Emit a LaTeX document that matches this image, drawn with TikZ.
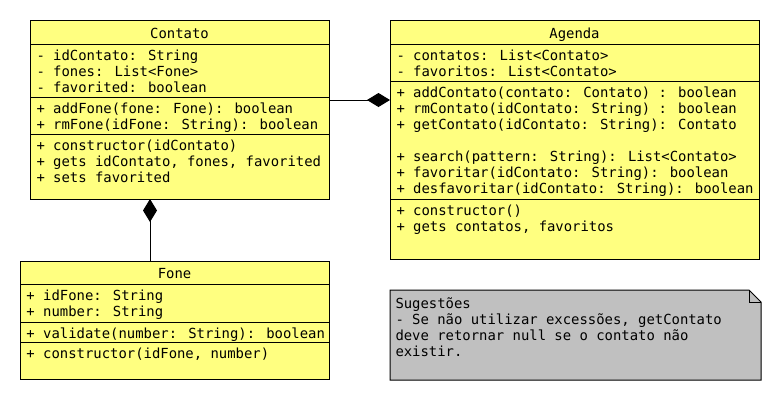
\documentclass[tikz,border=0pt]{standalone}
\usepackage{fontspec}
\newfontfamily\umlfont{DejaVu Sans Mono}
\usetikzlibrary{arrows.meta,positioning}
\definecolor{umlyellow}{HTML}{FFFF80}
\definecolor{notegrey}{HTML}{C0C0C0}

\begin{document}
\begin{tikzpicture}[
    x=1pt, y=-1pt,
    line width=1pt,
    classbox/.style={draw, fill=umlyellow, anchor=north west, inner sep=0pt, outer sep=0pt},
    classname/.style={anchor=base, inner sep=0pt, font=\umlfont\fontsize{13.9}{16}\selectfont},
    member/.style={anchor=base west, align=left, inner sep=0pt, font=\umlfont\fontsize{13.9}{16}\selectfont},
    comp/.style={-{Diamond[length=23pt,width=14pt]}}
]
\useasboundingbox (0,0) rectangle (780,400);

\node (contato) [classbox, minimum width=299pt, minimum height=179pt] at (30,20) {};
\node (agenda) [classbox, minimum width=369pt, minimum height=239pt] at (390,20) {};
\node (fone) [classbox, minimum width=309pt, minimum height=118pt] at (20,261) {};

\draw ([yshift=-24pt]contato.north west) -- ([yshift=-24pt]contato.north east);
\draw ([yshift=-77pt]contato.north west) -- ([yshift=-77pt]contato.north east);
\draw ([yshift=-114pt]contato.north west) -- ([yshift=-114pt]contato.north east);
\draw ([yshift=-24pt]agenda.north west) -- ([yshift=-24pt]agenda.north east);
\draw ([yshift=-61pt]agenda.north west) -- ([yshift=-61pt]agenda.north east);
\draw ([yshift=-179pt]agenda.north west) -- ([yshift=-179pt]agenda.north east);
\draw ([yshift=-23.5pt]fone.north west) -- ([yshift=-23.5pt]fone.north east);
\draw ([yshift=-61pt]fone.north west) -- ([yshift=-61pt]fone.north east);
\draw ([yshift=-81pt]fone.north west) -- ([yshift=-81pt]fone.north east);

\node (contatoname) [classname] at ([yshift=-18pt]contato.north) {Contato};
\node (contatoattr) [member] at ([xshift=6pt,yshift=-72pt]contato.north west) {- idContato: String\\- fones: List<Fone>\\- favorited: boolean};
\node (contatoops) [member] at ([xshift=6pt,yshift=-109pt]contato.north west) {+ addFone(fone: Fone): boolean\\+ rmFone(idFone: String): boolean};
\node (contatoacc) [member] at ([xshift=6pt,yshift=-162pt]contato.north west) {+ constructor(idContato)\\+ gets idContato, fones, favorited\\+ sets favorited};

\node (agendaname) [classname] at ([yshift=-18pt]agenda.north) {Agenda};
\node (agendaattr) [member] at ([xshift=6pt,yshift=-56pt]agenda.north west) {- contatos: List<Contato>\\- favoritos: List<Contato>};
\node (agendaops) [member] at ([xshift=6pt,yshift=-173pt]agenda.north west) {+ addContato(contato: Contato) : boolean\\+ rmContato(idContato: String) : boolean\\+ getContato(idContato: String): Contato\\[16pt]+ search(pattern: String): List<Contato>\\+ favoritar(idContato: String): boolean\\+ desfavoritar(idContato: String): boolean};
\node (agendaacc) [member] at ([xshift=6pt,yshift=-211pt]agenda.north west) {+ constructor()\\+ gets contatos, favoritos};

\node (fonename) [classname] at ([yshift=-17.5pt]fone.north) {Fone};
\node (foneattr) [member] at ([xshift=6pt,yshift=-55pt]fone.north west) {+ idFone: String\\+ number: String};
\node (foneops) [member] at ([xshift=6pt,yshift=-77pt]fone.north west) {+ validate(number: String): boolean};
\node (foneacc) [member] at ([xshift=6pt,yshift=-97pt]fone.north west) {+ constructor(idFone, number)};

\node (note) [anchor=north west, minimum width=370pt, minimum height=89pt, inner sep=0pt] at (390,290) {};
\draw [fill=notegrey] (note.north west) -- ([xshift=-12pt]note.north east) -- ([yshift=-12pt]note.north east) -- (note.south east) -- (note.south west) -- cycle;
\draw ([xshift=-12pt]note.north east) |- ([yshift=-12pt]note.north east);
\node (notetext) [member] at ([xshift=5pt,yshift=-66pt]note.north west) {Sugestões\\- Se não utilizar excessões, getContato\\deve retornar null se o contato não\\existir.};

\coordinate (cj) at (0,100);
\coordinate (fj) at (150,0);
\draw [comp] (contato.east |- cj) -- (agenda.west |- cj);
\draw [comp] (fone.north -| fj) -- (contato.south -| fj);

\end{tikzpicture}
\end{document}
